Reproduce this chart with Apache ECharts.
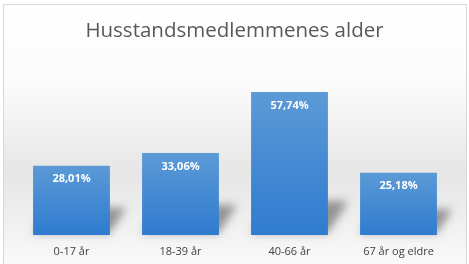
<!DOCTYPE html>
<html><head><meta charset="utf-8">
<script src="https://cdn.jsdelivr.net/npm/echarts@6/dist/echarts.min.js"></script>
<style>html,body{margin:0;padding:0;background:#fff}#c{width:469px;height:264px}</style>
</head><body><div id="c"></div>
<script>
const titleText = 'Husstandsmedlemmenes alder';
const categories = ['0-17 år', '18-39 år', '40-66 år', '67 år og eldre'];
const values = [28.01, 33.06, 57.74, 25.18];
const valueLabels = ['28,01%', '33,06%', '57,74%', '25,18%'];

const shadowData = values.map((v, i) => [i, v]);

const chart = echarts.init(document.getElementById('c'), null, {renderer: 'canvas'});
chart.setOption({
  animation: false,
  backgroundColor: '#ffffff',
  graphic: [{
    type: 'rect', z: -10, silent: true,
    shape: {x: 3.5, y: 4.5, width: 463, height: 270},
    style: {
      fill: new echarts.graphic.LinearGradient(0, 0, 0, 1, [
        {offset: 0, color: '#ffffff'},
        {offset: 0.3, color: '#fbfbfb'},
        {offset: 0.62, color: '#e6e6e6'},
        {offset: 0.78, color: '#eeeeee'},
        {offset: 1, color: '#fcfcfc'}
      ]),
      stroke: '#d9d9d9', lineWidth: 1
    }
  }],
  title: {
    text: titleText, left: 'center', top: 16,
    textStyle: {color: '#595959', fontSize: 20.5, fontWeight: 'normal', fontFamily: 'Open Sans'}
  },
  grid: {left: 17, right: 16, top: 86.4, bottom: 29, containLabel: false},
  xAxis: {
    type: 'category', data: categories,
    axisLine: {show: false}, axisTick: {show: false},
    axisLabel: {color: '#404040', fontSize: 11, fontFamily: 'Open Sans', margin: 11}
  },
  yAxis: {type: 'value', min: 0, max: 60, show: false, splitLine: {show: false}},
  series: [{
    type: 'custom', z: 1, silent: true,
    data: shadowData,
    encode: {x: 0, y: 1},
    renderItem: function (params, api) {
      const base = api.coord([api.value(0), 0]);
      const top = api.coord([api.value(0), api.value(1)]);
      const bw = api.size([1, 0])[0] * 0.705;
      const x0 = base[0] - bw / 2, x1 = base[0] + bw / 2, yb = base[1];
      const h = Math.min(34, (yb - top[1]) * 0.22 + 12);
      const dx = h * 0.6;
      const off = 3000;
      return {
        type: 'group',
        children: [{
          type: 'polygon',
          shape: {points: [[x0 + off, yb - 2], [x1 + off, yb - 2], [x1 + dx + off, yb - h], [x0 + dx + off, yb - h]]},
          style: {
            fill: '#000', shadowBlur: 9, shadowOffsetX: -off, shadowOffsetY: 0,
            shadowColor: 'rgba(0,0,0,0.38)'
          }
        }]
      };
    }
  }, {
    type: 'bar', data: values, barCategoryGap: '29.5%', z: 2,
    itemStyle: {
      color: new echarts.graphic.LinearGradient(0, 0, 0, 1, [
        {offset: 0, color: '#5b9ad6'},
        {offset: 1, color: '#2f7bcf'}
      ])
    },
    label: {
      show: true, position: 'insideTop', distance: 8,
      color: '#ffffff', fontSize: 11, fontWeight: 'bold', fontFamily: 'Open Sans',
      formatter: p => valueLabels[p.dataIndex]
    }
  }]
});
</script></body></html>
